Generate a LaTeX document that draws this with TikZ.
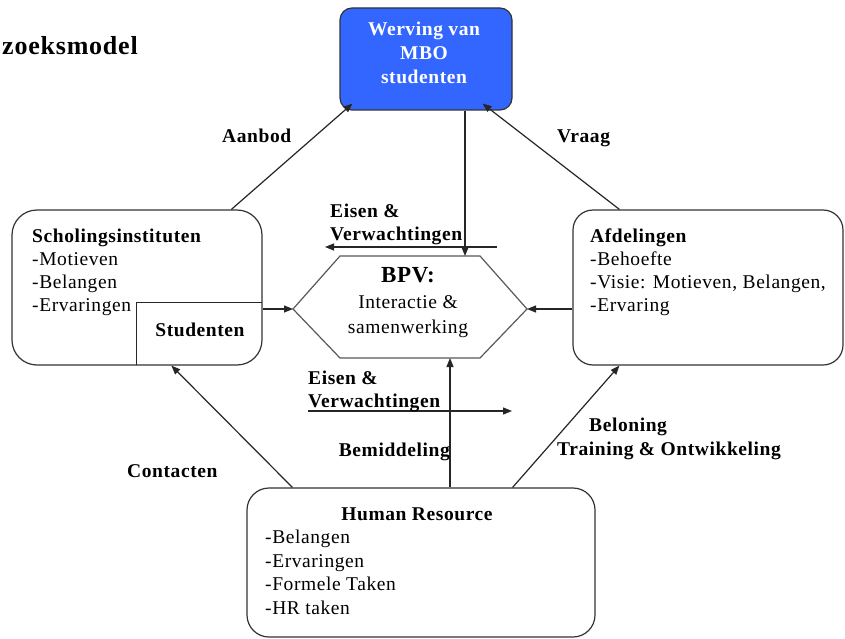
\documentclass[tikz,border=0pt]{standalone}
\usepackage{fontspec}
\setmainfont{Liberation Serif}[LetterSpace=3]
\usetikzlibrary{arrows.meta,calc}
\definecolor{wervblue}{HTML}{3366FF}
\tikzset{
  txt/.style={inner sep=0pt, font=\fontsize{19.5}{23}\selectfont, anchor=base west},
  btxt/.style={txt, font=\fontsize{19.5}{23}\selectfont\bfseries},
  panel/.style={draw=black!80, line width=1.2pt, rounded corners=22pt, inner sep=0pt},
  link/.style={draw=black!85, line width=1.2pt, -{Triangle[length=9pt,width=7pt]}},
  plain/.style={draw=black!85, line width=1.2pt},
}
\begin{document}
\begin{tikzpicture}[x=1pt,y=-1pt]
\useasboundingbox (0,0) rectangle (845,639);
\fill[white] (0,0) rectangle (845,639);

% heading
\node[btxt, font=\fontsize{26}{30}\selectfont\bfseries, anchor=base east] (title) at (138,55) {zoeksmodel};

% recruitment box
\node[panel, fill=wervblue, rounded corners=12pt, minimum width=172, minimum height=102] (werv) at (426,59) {};
\node[btxt, white, anchor=base] (w1) at (424,36) {Werving van};
\node[btxt, white, anchor=base] (w2) at (424,60) {MBO};
\node[btxt, white, anchor=base] (w3) at (424,84) {studenten};

% schools
\node[panel, rounded corners=25pt, minimum width=250, minimum height=155] (scho) at (137,287.5) {};
\node[btxt] (s0) at (32,242) {Scholingsinstituten};
\foreach \t [count=\i] in {-Motieven,-Belangen,-Ervaringen}
  \node[txt] (s\i) at (32,{242+23.3*\i}) {\t};
\node[inner sep=0pt, minimum width=125, minimum height=62] (stud) at (199.5,334) {};
\draw[plain] (stud.north east) -- (stud.north west) -- (stud.south west);
\node[btxt, anchor=base] (studt) at (200,336) {Studenten};

% departments
\node[panel, rounded corners=20pt, minimum width=270, minimum height=155] (afd) at (708,287.5) {};
\node[btxt] (a0) at (590,242) {Afdelingen};
\foreach \t [count=\i] in {-Behoefte,{-Visie: Motieven, Belangen,},-Ervaring}
  \node[txt] (a\i) at (590,{242+23.3*\i}) {\t};

% human resource
\node[panel, rounded corners=22pt, minimum width=348, minimum height=149] (hr) at (421,562.5) {};
\node[btxt, anchor=base] (h0) at (417,520) {Human Resource};
\foreach \t [count=\i] in {-Belangen,-Ervaringen,-Formele Taken,-HR taken}
  \node[txt] (h\i) at (265,{520+23.5*\i}) {\t};

% BPV hexagon
\coordinate (hL) at (293,309);
\coordinate (hTL) at (340,256);
\coordinate (hTR) at (480,256);
\coordinate (hR) at (527,309);
\coordinate (hBR) at (480,358);
\coordinate (hBL) at (340,358);
\coordinate (hT) at (465,256);
\coordinate (hB) at (450,358);
\draw[draw=black!65, line width=1.2pt] (hL) -- (hTL) -- (hTR) -- (hR) -- (hBR) -- (hBL) -- cycle;
\node[btxt, font=\fontsize{23}{26}\selectfont\bfseries, anchor=base] (bpv) at (408,282) {BPV:};
\node[txt, anchor=base] (bpv1) at (408,308) {Interactie \&};
\node[txt, anchor=base] (bpv2) at (408,333) {samenwerking};

% connectors
\draw[link] ([xshift=220pt]scho.north west) -- ([shift={(13,-7)}]werv.south west);
\draw[link] ([xshift=47pt]afd.north west) -- ([shift={(-30,-7)}]werv.south east);
\draw[link] (werv.south -| hT) -- (hT);
\draw[link] (scho.east |- hL) -- (hL);
\draw[link] (afd.west |- hR) -- (hR);
\draw[link] (hr.north -| hB) -- (hB);
\draw[link] ([xshift=46pt]hr.north west) -- ([xshift=160pt]scho.south west);
\draw[link] ([xshift=-83pt]hr.north east) -- ([xshift=47pt]afd.south west);

\coordinate (e1a) at (497,247);
\coordinate (e1b) at (325,247);
\draw[link] (e1a) -- (e1b);
\coordinate (e2a) at (308,411);
\coordinate (e2b) at (512,411);
\draw[link] (e2a) -- (e2b);

% connector labels
\node[btxt] (lAanbod) at (222,143) {Aanbod};
\node[btxt] (lVraag) at (557,143) {Vraag};
\node[btxt] (lE1) at (330,217) {Eisen \&};
\node[btxt] (lV1) at (330,240) {Verwachtingen};
\node[btxt] (lE2) at (308,384) {Eisen \&};
\node[btxt] (lV2) at (308,407) {Verwachtingen};
\node[btxt, anchor=base east] (lBem) at (450,456) {Bemiddeling};
\node[btxt] (lCon) at (127,477) {Contacten};
\node[btxt] (lBel) at (589,431) {Beloning};
\node[btxt] (lTr) at (557,455) {Training \& Ontwikkeling};
\end{tikzpicture}
\end{document}
